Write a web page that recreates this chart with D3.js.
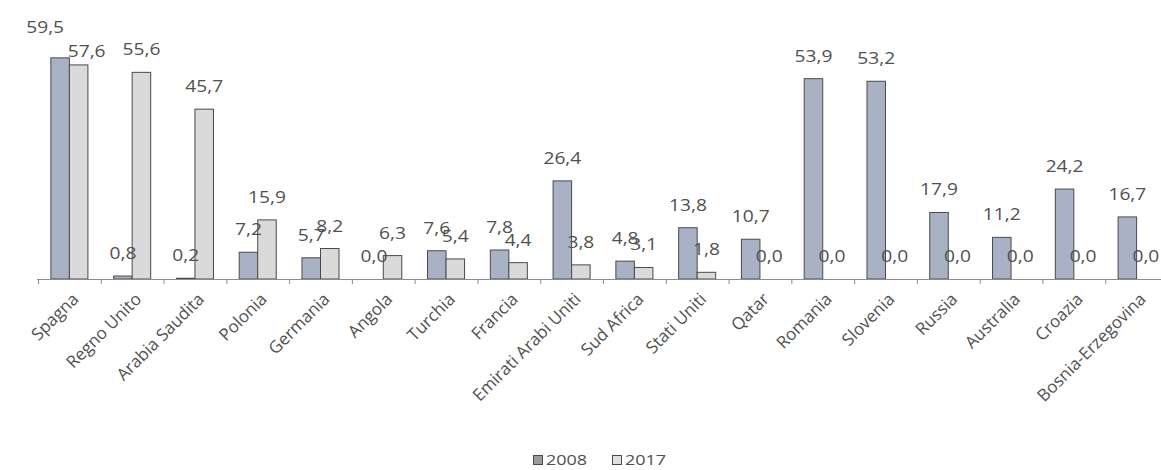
<!DOCTYPE html>
<html>
<head>
<meta charset="utf-8">
<script src="https://cdn.jsdelivr.net/npm/d3@7.9.0/dist/d3.min.js"></script>
<style>
  body { margin: 0; background: #fff; }
  svg text { font-family: "Open Sans", "Noto Sans", sans-serif; fill: #505050; }
</style>
</head>
<body>
<svg id="chart" width="1161" height="470"></svg>
<script>
// ---------------------------------------------------------
// Data
// ---------------------------------------------------------
const countries = [
  "Spagna", "Regno Unito", "Arabia Saudita", "Polonia", "Germania", "Angola",
  "Turchia", "Francia", "Emirati Arabi Uniti", "Sud Africa", "Stati Uniti",
  "Qatar", "Romania", "Slovenia", "Russia", "Australia", "Croazia", "Bosnia-Erzegovina"
];
const years = ["2008", "2017"];
const values2008 = [59.5, 0.8, 0.2, 7.2, 5.7, 0.0, 7.6, 7.8, 26.4, 4.8, 13.8, 10.7, 53.9, 53.2, 17.9, 11.2, 24.2, 16.7];
const values2017 = [57.6, 55.6, 45.7, 15.9, 8.2, 6.3, 5.4, 4.4, 3.8, 3.1, 1.8, 0.0, 0.0, 0.0, 0.0, 0.0, 0.0, 0.0];

const rows = countries.map((c, i) => ({ country: c, values: [values2008[i], values2017[i]] }));

// ---------------------------------------------------------
// Layout
// ---------------------------------------------------------
const svg = d3.select("#chart");
const baseY = 279;
const stretch = "scale(1.2,1)";   // numbers in the reference look a bit wide
const fills = { "2008": "#a9b2c5", "2017": "#dadada" };

// the tall Spagna pair had its labels pushed apart
const spreadLabels = new Set(["Spagna"]);

const x = d3.scaleBand()
  .domain(countries)
  .range([38, 1168])
  .paddingInner(0.41)
  .paddingOuter(0.205);

const xSub = d3.scaleBand()
  .domain(years)
  .range([0, x.bandwidth()]);

const y = d3.scaleLinear()
  .domain([0, 60])
  .range([baseY, 56]);

const fmt = v => v.toFixed(1).replace(".", ",");

// ---------------------------------------------------------
// Bars
// ---------------------------------------------------------
const groups = svg.append("g")
  .selectAll("g")
  .data(rows)
  .join("g")
  .attr("transform", d => `translate(${x(d.country)},0)`);

const pairs = d => d.values.map((v, i) => ({ country: d.country, year: years[i], value: v, i }));

groups.selectAll("rect")
  .data(pairs)
  .join("rect")
  .attr("x", d => xSub(d.year))
  .attr("y", d => y(d.value))
  .attr("width", xSub.bandwidth())
  .attr("height", d => baseY - y(d.value))
  .attr("fill", d => fills[d.year])
  .attr("stroke", "#4a4a4a")
  .attr("stroke-width", 1);

// value labels
groups.selectAll("text")
  .data(pairs)
  .join("text")
  .attr("transform", d => {
    let lx = xSub(d.year) + xSub.bandwidth() / 2;
    let ly = y(d.value) - 17;
    if (spreadLabels.has(d.country)) {
      lx += d.i === 0 ? -15 : 8;
      ly += d.i === 0 ? -8 : 9;
    }
    return `translate(${lx},${ly}) ${stretch}`;
  })
  .attr("text-anchor", "middle")
  .attr("font-size", 16)
  .text(d => fmt(d.value));

// ---------------------------------------------------------
// Axis
// ---------------------------------------------------------
const axis = svg.append("g");
axis.append("line")
  .attr("x1", 37).attr("x2", 1161)
  .attr("y1", baseY + 0.5).attr("y2", baseY + 0.5)
  .attr("stroke", "#8c8c8c");

axis.selectAll("line.tick")
  .data(d3.range(countries.length + 1))
  .join("line")
  .attr("class", "tick")
  .attr("x1", i => 38 + i * x.step() + 0.5)
  .attr("x2", i => 38 + i * x.step() + 0.5)
  .attr("y1", baseY)
  .attr("y2", baseY + 5)
  .attr("stroke", "#8c8c8c");

axis.selectAll("text")
  .data(countries)
  .join("text")
  .attr("transform", d => `translate(${x(d) + x.bandwidth() / 2 + 6},${baseY + 17}) rotate(-45)`)
  .attr("text-anchor", "end")
  .attr("dy", "0.35em")
  .attr("font-size", 17)
  .text(d => d);

// ---------------------------------------------------------
// Legend
// ---------------------------------------------------------
const legend = svg.append("g").attr("transform", "translate(533,455)");
const legendX = [0, 79];
years.forEach((yr, i) => {
  legend.append("rect")
    .attr("x", legendX[i] + 0.5).attr("y", 0.5)
    .attr("width", 9).attr("height", 9)
    .attr("fill", i === 0 ? "#9a9a9a" : "#e0e0e0")
    .attr("stroke", "#4a4a4a");
  legend.append("text")
    .attr("transform", `translate(${legendX[i] + 13},10) ${stretch}`)
    .attr("font-size", 15)
    .text(yr);
});
</script>
</body>
</html>
